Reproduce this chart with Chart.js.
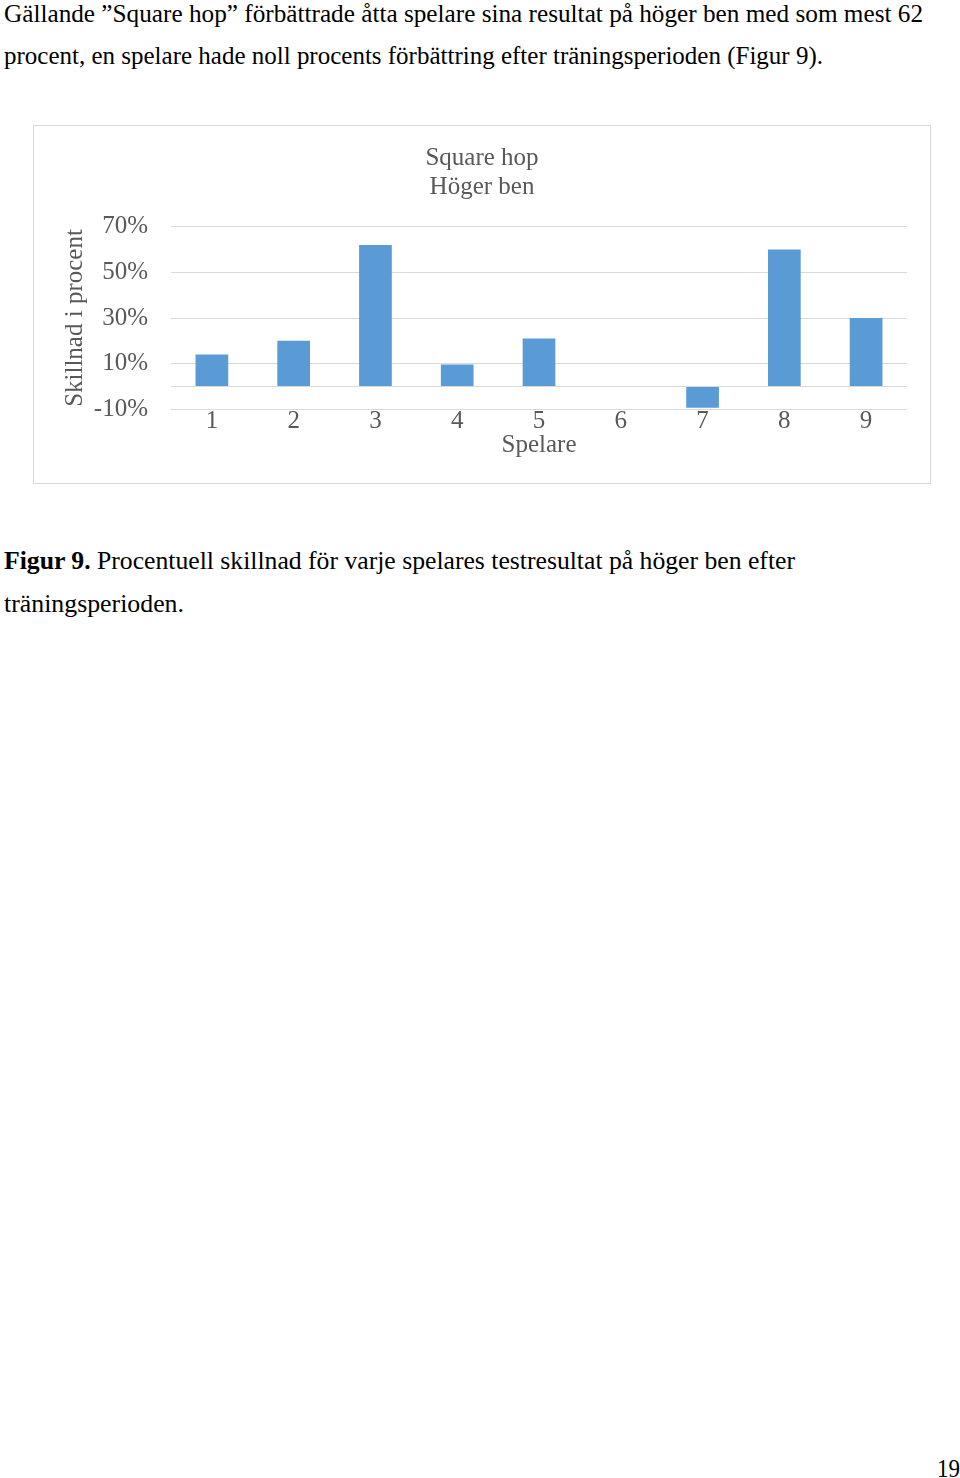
<!DOCTYPE html>
<html>
<head>
<meta charset="utf-8">
<script src="https://cdn.jsdelivr.net/npm/chart.js@4.4.1/dist/chart.umd.min.js"></script>
<style>
  body { margin: 0; background: #fff; width: 960px; height: 1478px; position: relative; overflow: hidden; }
  .rad { position: absolute; left: 4px; font-family: "Liberation Serif", serif; font-size: 24px; color: #000; white-space: nowrap; transform-origin: 0 0; line-height: 1; }
  #ram { position: absolute; left: 33px; top: 125px; width: 896px; height: 357px; border: 1px solid #d9d9d9; }
</style>
</head>
<body>
<div class="rad" data-w="919" data-b="19">Gällande ”Square hop” förbättrade åtta spelare sina resultat på höger ben med som mest 62</div>
<div class="rad" data-w="819" data-b="61">procent, en spelare hade noll procents förbättring efter träningsperioden (Figur 9).</div>

<div id="ram"><canvas id="graf" width="896" height="357"></canvas></div>

<div class="rad" data-w="791" data-b="566"><b>Figur 9.</b> Procentuell skillnad för varje spelares testresultat på höger ben efter</div>
<div class="rad" data-w="180" data-b="609">träningsperioden.</div>
<div class="rad" data-w="23" data-b="1474" style="left:937px">19</div>

<script>
const spelare = ['1', '2', '3', '4', '5', '6', '7', '8', '9'];
const skillnad = [14, 20, 62, 9.6, 21, 0, -9.3, 60, 30];
const yTicks = [-10, 0, 10, 30, 50, 70];
const titel = ['Square hop', 'Höger ben'];

// passa in textraderna på bredd och baslinje
document.querySelectorAll('.rad').forEach(el => {
    const w = el.getBoundingClientRect().width;
    const sx = parseFloat(el.dataset.w) / w;
    el.style.top = (parseFloat(el.dataset.b) - 19) + 'px';
    el.style.transform = `scaleX(${sx}) scaleY(1.08)`;
});

const gra = '#595959';
const typsnitt = { family: 'Liberation Serif', size: 25 };

new Chart(document.getElementById('graf').getContext('2d'), {
    type: 'bar',
    data: {
        labels: spelare,
        datasets: [{ data: skillnad, backgroundColor: '#5b9bd5', barPercentage: 0.4, categoryPercentage: 1 }]
    },
    options: {
        responsive: false,
        animation: false,
        layout: { padding: { left: 23, right: 23, top: 0, bottom: 0 } },
        plugins: {
            legend: { display: false },
            tooltip: { enabled: false },
            title: {
                display: true,
                text: titel,
                color: gra,
                font: { ...typsnitt, weight: 'normal', lineHeight: 1.16 },
                padding: { top: 17.5, bottom: 25.2 }
            }
        },
        scales: {
            x: {
                grid: { display: false, drawTicks: false },
                border: { display: false },
                ticks: { color: gra, font: typsnitt, padding: -3, maxRotation: 0 },
                title: { display: true, text: 'Spelare', color: gra, font: typsnitt, padding: { top: 0, bottom: 23 } },
                afterFit: s => { s.height = 73.7; }
            },
            y: {
                min: -10,
                max: 70,
                grid: { color: '#d9d9d9', drawTicks: false },
                border: { display: false },
                ticks: {
                    color: gra,
                    font: typsnitt,
                    padding: 23,
                    callback: v => v === 0 ? '' : v + '%'
                },
                afterBuildTicks: s => { s.ticks = yTicks.map(v => ({ value: v })); },
                title: { display: true, text: 'Skillnad i procent', color: gra, font: typsnitt, padding: { top: 3, bottom: 0 } },
                afterFit: s => { s.width = 114; }
            }
        }
    }
});
</script>
</body>
</html>
